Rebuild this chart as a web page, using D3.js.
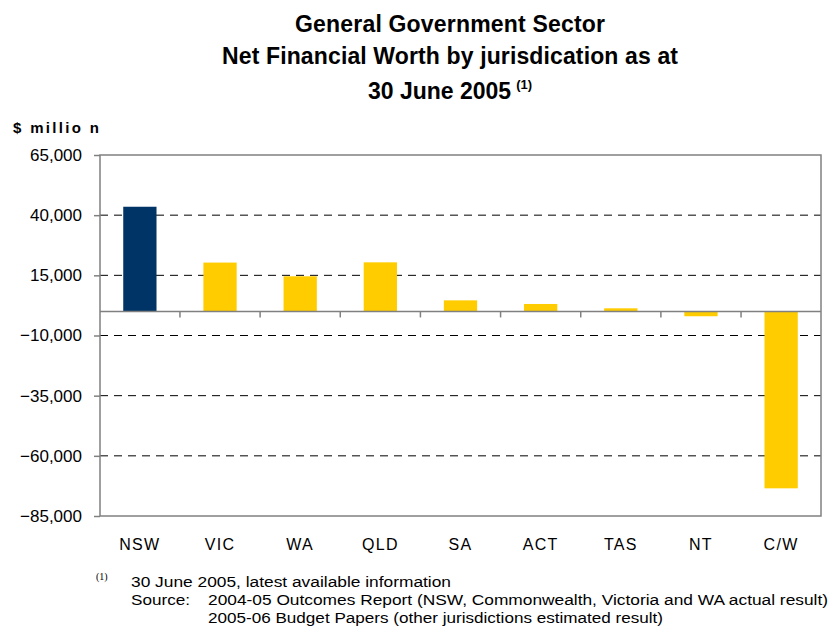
<!DOCTYPE html>
<html>
<head>
<meta charset="utf-8">
<script src="https://cdn.jsdelivr.net/npm/d3@7"></script>
<style>
  body { margin: 0; background: #fff; }
  svg { display: block; }
  text { font-family: "Liberation Sans", Arial, sans-serif; fill: #000; }
  .narrow { font-family: "Liberation Sans Narrow", "Arial Narrow", "Liberation Sans", sans-serif; }
</style>
</head>
<body>
<script>
// Net financial worth by jurisdiction, $ million, 30 June 2005
const jurisdictions = ["NSW", "VIC", "WA", "QLD", "SA", "ACT", "TAS", "NT", "C/W"];
const netWorth = [43500, 20300, 14600, 20400, 4600, 3100, 1300, -2000, -73500];
const highlight = ["NSW"];
const yTicks = [65000, 40000, 15000, -10000, -35000, -60000, -85000];
const titleLines = ["General Government Sector", "Net Financial Worth by jurisdication as at", "30 June 2005"];
const notes = [
  "30 June 2005, latest available information",
  "Source:",
  "2004-05 Outcomes Report (NSW, Commonwealth, Victoria and WA actual result)",
  "2005-06 Budget Papers (other jurisdictions estimated result)"
];

const W = 833, H = 630;
const plot = { left: 100, right: 821, top: 155, bottom: 516 };

const svg = d3.select("body").append("svg").attr("width", W).attr("height", H);

const x = d3.scaleBand().domain(jurisdictions).range([plot.left, plot.right]).paddingInner(0.585).paddingOuter(0.29);
const y = d3.scaleLinear().domain([-85000, 65000]).range([plot.bottom, plot.top]);

// Title
const title = svg.append("g").attr("font-weight", "bold").attr("font-size", 23).attr("text-anchor", "middle");
const titleWidths = [310, 456, null];
const titleBase = [32, 64, 99];
titleLines.forEach((t, i) => {
  const tx = title.append("text").attr("x", 450).attr("y", titleBase[i]);
  tx.append("tspan").text(t);
  if (titleWidths[i]) tx.attr("textLength", titleWidths[i]).attr("lengthAdjust", "spacing");
  if (i === 2) tx.append("tspan").attr("font-size", 13).attr("dy", -10).attr("dx", 5).text("(1)");
});

// Unit label
svg.append("text").attr("x", 13).attr("y", 133).attr("font-weight", "bold").attr("font-size", 15)
  .attr("textLength", 86).attr("lengthAdjust", "spacing").text("$ millio n");

// Dashed gridlines
svg.append("g").selectAll("line")
  .data(yTicks.filter(v => v !== 65000 && v !== -85000))
  .join("line")
  .attr("x1", plot.left).attr("x2", plot.right)
  .attr("y1", d => y(d)).attr("y2", d => y(d))
  .attr("stroke", "#000").attr("stroke-width", 1).attr("stroke-dasharray", "8,6");

// Bars
svg.append("g").selectAll("rect")
  .data(jurisdictions.map((j, i) => ({ j, v: netWorth[i] })))
  .join("rect")
  .attr("x", d => x(d.j))
  .attr("width", x.bandwidth())
  .attr("y", d => y(Math.max(0, d.v)))
  .attr("height", d => Math.abs(y(d.v) - y(0)))
  .attr("fill", d => highlight.includes(d.j) ? "#003366" : "#FFCC00");

// Plot frame
svg.append("rect").attr("x", plot.left).attr("y", plot.top)
  .attr("width", plot.right - plot.left).attr("height", plot.bottom - plot.top)
  .attr("fill", "none").attr("stroke", "#808080").attr("stroke-width", 1.5);

// Y axis
const yAxis = svg.append("g").attr("transform", `translate(${plot.left},0)`)
  .call(d3.axisLeft(y).tickValues(yTicks).tickSize(6).tickPadding(12).tickFormat(d3.format(",")));
yAxis.select(".domain").remove();
yAxis.selectAll("line").attr("stroke", "#808080").attr("stroke-width", 1.5);
yAxis.selectAll("text").attr("font-size", 17).attr("font-family", "Liberation Sans, Arial, sans-serif");

// Zero axis with category separators
const zeroY = y(0);
svg.append("line").attr("x1", plot.left).attr("x2", plot.right).attr("y1", zeroY).attr("y2", zeroY)
  .attr("stroke", "#808080").attr("stroke-width", 1.5);
const step = x.step();
svg.append("g").selectAll("line")
  .data(jurisdictions.slice(1))
  .join("line")
  .attr("x1", d => x(d) - (step - x.bandwidth()) / 2)
  .attr("x2", d => x(d) - (step - x.bandwidth()) / 2)
  .attr("y1", zeroY).attr("y2", zeroY + 6)
  .attr("stroke", "#808080").attr("stroke-width", 1.5);

// Category labels
svg.append("g").selectAll("text")
  .data(jurisdictions)
  .join("text")
  .attr("x", d => x(d) + x.bandwidth() / 2)
  .attr("y", 550)
  .attr("text-anchor", "middle").attr("font-size", 16)
  .attr("letter-spacing", 1.3)
  .text(d => d);

// Footnotes
const foot = svg.append("g").attr("font-size", 15.5);
foot.append("text").attr("x", 96).attr("y", 580).attr("font-size", 10)
  .style("font-family", "Liberation Serif, serif").text("(1)");
const noteSpec = [
  { x: 131, y: 587, w: 320 },
  { x: 131, y: 605, w: 59 },
  { x: 208, y: 605, w: 620 },
  { x: 208, y: 623, w: 455 }
];
noteSpec.forEach((s, i) => {
  foot.append("text").attr("class", "narrow").attr("x", s.x).attr("y", s.y)
    .attr("textLength", s.w).attr("lengthAdjust", "spacingAndGlyphs").text(notes[i]);
});
</script>
</body>
</html>
